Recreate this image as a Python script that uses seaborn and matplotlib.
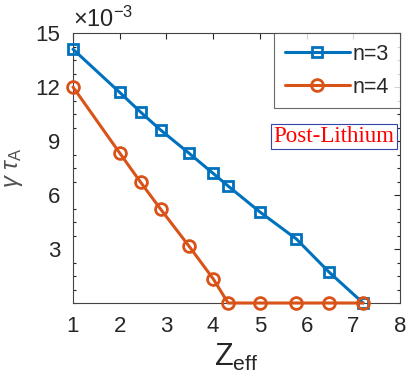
import numpy as np
import pandas as pd
import matplotlib
matplotlib.use("Agg")
import matplotlib.pyplot as plt
import seaborn as sns
from matplotlib.ticker import MultipleLocator, FixedLocator

zeff = [1.0, 2.0, 2.45, 2.88, 3.48, 4.0, 4.32, 5.0, 5.78, 6.48, 7.21]
n3 = [14.1, 11.7, 10.6, 9.6, 8.33, 7.2, 6.5, 5.06, 3.56, 1.72, 0.0]
n4 = [12.0, 8.33, 6.7, 5.2, 3.17, 1.35, 0.0, 0.0, 0.0, 0.0, 0.0]
series_names = ["n=3", "n=4"]
yticks = [3, 6, 9, 12, 15]
xticks = [1, 2, 3, 4, 5, 6, 7, 8]

sns.set_style("white")
plt.rcParams['font.family'] = ['Liberation Sans', 'DejaVu Sans']
plt.rcParams['mathtext.fontset'] = 'custom'
plt.rcParams['mathtext.rm'] = 'Liberation Sans'
plt.rcParams['mathtext.it'] = 'Liberation Sans:italic'

df = pd.DataFrame({
    "Zeff": zeff * 2,
    "gamma": [v * 1e-3 for v in n3] + [v * 1e-3 for v in n4],
    "series": [series_names[0]] * len(zeff) + [series_names[1]] * len(zeff),
})

fig = plt.figure(figsize=(4.14, 3.87), dpi=100)
ax = fig.add_axes([73 / 414, 1 - 303 / 387, (400 - 73) / 414, (303 - 33) / 387])

colors = {"n=3": "#0072BD", "n=4": "#D95319"}
markers = {"n=3": "s", "n=4": "o"}
msize = {"n=3": 6.5, "n=4": 8.5}
for name in series_names:
    sub = df[df.series == name]
    sns.lineplot(data=sub, x="Zeff", y="gamma", ax=ax, color=colors[name],
                 marker=markers[name], markersize=msize[name],
                 markerfacecolor="none", markeredgecolor=colors[name],
                 markeredgewidth=2, linewidth=2.2, label=name, clip_on=False,
                 zorder=3)

ax.set_xlim(1, 8)
ax.set_ylim(0, 0.015)
ax.xaxis.set_major_locator(FixedLocator(xticks))
ax.yaxis.set_major_locator(FixedLocator([v * 1e-3 for v in yticks]))
ax.yaxis.set_minor_locator(MultipleLocator(0.75e-3))
ax.set_xticklabels([str(t) for t in xticks])
ax.set_yticklabels([str(t) for t in yticks])
ax.tick_params(which='both', direction='in', top=True, right=True,
               colors='#262626', labelsize=16, pad=9)
ax.tick_params(which='major', length=4, width=0.8)
ax.tick_params(which='minor', length=2.5, width=0.8, left=True, right=True)
for sp in ax.spines.values():
    sp.set_visible(True)
    sp.set_color('#444444')
    sp.set_linewidth(0.8)

ax.text(0.0, 1.005, r'$\times10^{-3}$', transform=ax.transAxes, fontsize=17,
        color='#262626', ha='left', va='bottom')

ax.set_xlabel(r'Z$_{\mathrm{eff}}$', fontsize=22, color='#262626', labelpad=4)
ax.set_ylabel(r'$\gamma\ \tau_{\mathrm{A}}$', fontsize=17, color='#505050', labelpad=8)

leg = ax.legend(loc='upper right', fontsize=15.5, frameon=True, fancybox=False,
                edgecolor='#444444', borderaxespad=0, handlelength=3.0,
                handletextpad=0.15, borderpad=0.5, labelspacing=0.55)
leg.get_frame().set_linewidth(0.8)

ax.text(0.613, 0.578, 'Post-Lithium', transform=ax.transAxes,
        fontsize=16.5, color='red', family='Liberation Serif', ha='left', va='bottom',
        bbox=dict(boxstyle='square,pad=0.1', facecolor='white', edgecolor='#3344aa',
                  linewidth=0.8))

fig.savefig("out.png", dpi=100)
